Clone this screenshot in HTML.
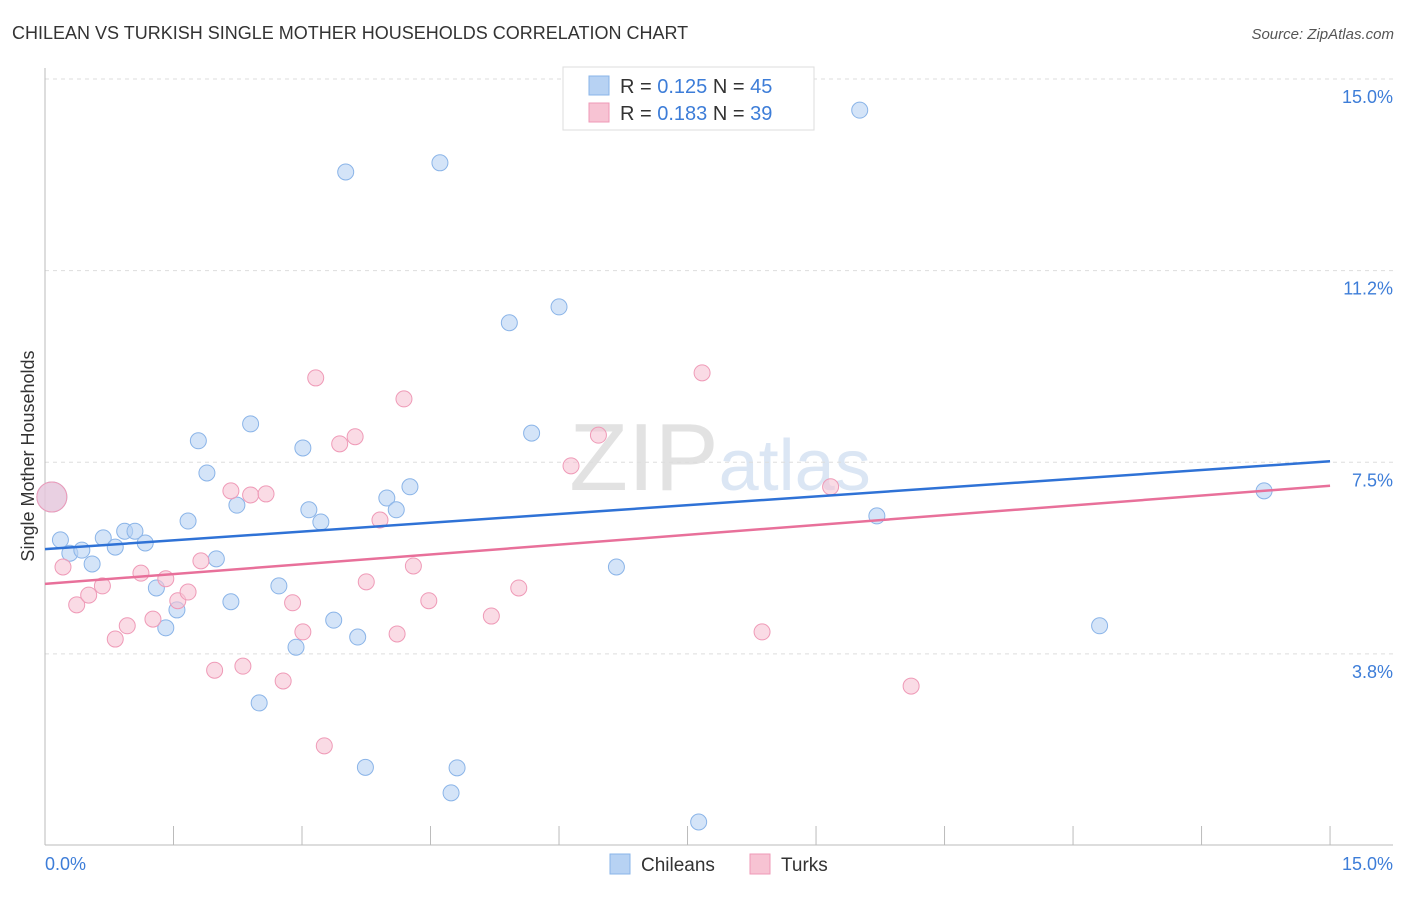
<!DOCTYPE html>
<html><head><meta charset="utf-8"><style>
body{margin:0;background:#fff;font-family:"Liberation Sans",sans-serif;}
svg text{font-family:"Liberation Sans",sans-serif;}
</style></head><body>
<svg id="chart" width="1406" height="892">
<text x="12" y="39" font-size="18" fill="#333">CHILEAN VS TURKISH SINGLE MOTHER HOUSEHOLDS CORRELATION CHART</text>
<text x="1394" y="39" font-size="15" fill="#555" text-anchor="end" font-style="italic">Source: ZipAtlas.com</text>
<text x="720" y="490" font-size="96" fill="#e6e6e6" text-anchor="middle" font-family="Liberation Serif"><tspan fill="#e2e2e2">ZIP</tspan><tspan fill="#dbe6f4" font-family="Liberation Sans" font-size="72">atlas</tspan></text>
<g id="grid"></g><g id="axes"></g><g id="marks"></g>
<text transform="translate(34,456) rotate(-90)" font-size="18" fill="#333" text-anchor="middle">Single Mother Households</text>
<g>
<rect x="563" y="67" width="251" height="63" fill="#fff" stroke="#ddd"/>
<rect x="589" y="76" width="20" height="19" fill="#b7d2f3" stroke="#8ab4e8"/>
<text x="620" y="93" font-size="20" fill="#333">R = <tspan fill="#3d7dd8">0.125</tspan>   N = <tspan fill="#3d7dd8">45</tspan></text>
<rect x="589" y="103" width="20" height="19" fill="#f7c3d3" stroke="#ef9ab7"/>
<text x="620" y="120" font-size="20" fill="#333">R = <tspan fill="#3d7dd8">0.183</tspan>   N = <tspan fill="#3d7dd8">39</tspan></text>
</g>
<g>
<rect x="610" y="854" width="20" height="20" fill="#b7d2f3" stroke="#8ab4e8"/>
<text x="641" y="871" font-size="19" fill="#333">Chileans</text>
<rect x="750" y="854" width="20" height="20" fill="#f7c3d3" stroke="#ef9ab7"/>
<text x="781" y="871" font-size="19" fill="#333">Turks</text>
</g>
</svg>
<script>
const yTicks=[3.8,7.5,11.2,15.0];
const yTickVals=[3.75,7.5,11.25,15];
const xTicks=[0,1.5,3,4.5,6,7.5,9,10.5,12,13.5,15];
const chileX=[0.08,0.18,0.29,0.43,0.55,0.68,0.82,0.93,1.05,1.17,1.30,1.41,1.54,1.67,1.79,1.89,2.00,2.17,2.24,2.40,2.50,2.73,2.93,3.01,3.08,3.22,3.37,3.51,3.65,3.74,3.99,4.10,4.26,4.61,4.74,4.81,5.42,5.68,6.00,6.67,7.63,9.51,9.71,12.31,14.23];
const chileY=[6.82,5.98,5.72,5.78,5.51,6.02,5.84,6.15,6.15,5.92,5.04,4.26,4.61,6.35,7.92,7.29,5.61,4.77,6.66,8.25,2.79,5.08,3.88,7.78,6.57,6.33,4.41,13.18,4.08,1.53,6.80,6.57,7.02,13.36,1.03,1.52,10.23,8.07,10.54,5.45,0.46,14.39,6.45,4.30,6.94];
const turkX=[0.08,0.21,0.37,0.51,0.67,0.82,0.96,1.12,1.26,1.41,1.55,1.67,1.82,1.98,2.17,2.31,2.40,2.58,2.78,2.89,3.01,3.16,3.26,3.44,3.62,3.75,3.91,4.11,4.19,4.30,4.48,5.21,5.53,6.14,6.46,7.67,8.37,9.17,10.11];
const turkY=[6.82,5.45,4.71,4.90,5.08,4.04,4.30,5.33,4.43,5.22,4.79,4.96,5.57,3.43,6.94,3.51,6.86,6.88,3.22,4.75,4.18,9.15,1.95,7.86,8.00,5.16,6.37,4.14,8.74,5.47,4.79,4.49,5.04,7.43,8.03,9.25,4.18,7.02,3.12];
const chileTrend=[5.80,7.52];
const turkTrend=[5.12,7.04];
const X=v=>45+v*85.67, Y=v=>79+(15-v)*51.1;
const NS="http://www.w3.org/2000/svg";
function mk(t,a,p){const e=document.createElementNS(NS,t);for(const k in a)e.setAttribute(k,a[k]);p.appendChild(e);return e;}
const grid=document.getElementById('grid'),axes=document.getElementById('axes'),marks=document.getElementById('marks');
yTickVals.forEach((v,i)=>{
 const l=mk('line',{x1:45,x2:1393,y1:Y(v),y2:Y(v),stroke:'#ddd','stroke-dasharray':'4,4'},grid);
 
 
 const t=mk('text',{x:1393,y:Y(v)+24,'font-size':18,fill:'#3d7dd8','text-anchor':'end'},axes);
 t.textContent=yTicks[i].toFixed(1)+'%';
 
 
});
const la=mk('line',{x1:45,x2:45,y1:68,y2:845,stroke:'#bbb'},axes);


const ba=mk('line',{x1:45,x2:1393,y1:845,y2:845,stroke:'#bbb'},axes);


xTicks.forEach(v=>{
 const l=mk('line',{x1:X(v),x2:X(v),y1:826,y2:845,stroke:'#bbb'},axes);
 
 
});
[[0,'start',45],[15,'end',1393]].forEach(([v,a,x])=>{
 const t=mk('text',{x:x,y:870,'font-size':18,fill:'#3d7dd8','text-anchor':a},axes);
 t.textContent=v.toFixed(1)+'%';
 
 
});
function pts(xs,ys,fill,stroke,name){
 xs.forEach((x,i)=>{
  const c=mk('circle',{cx:X(x),cy:Y(ys[i]),r:i===0?15:8,fill:fill,'fill-opacity':0.6,stroke:stroke,'stroke-width':1},marks);
  
  
 });
}
pts(chileX,chileY,'#b7d2f3','#8ab4e8','chileans-point');
pts(turkX,turkY,'#f7c3d3','#ef9ab7','turks-point');
const t1=mk('line',{x1:X(0),y1:Y(chileTrend[0]),x2:X(15),y2:Y(chileTrend[1]),stroke:'#2f72d6','stroke-width':2.5},marks);


const t2=mk('line',{x1:X(0),y1:Y(turkTrend[0]),x2:X(15),y2:Y(turkTrend[1]),stroke:'#e8709a','stroke-width':2.5},marks);


</script>
</body></html>
